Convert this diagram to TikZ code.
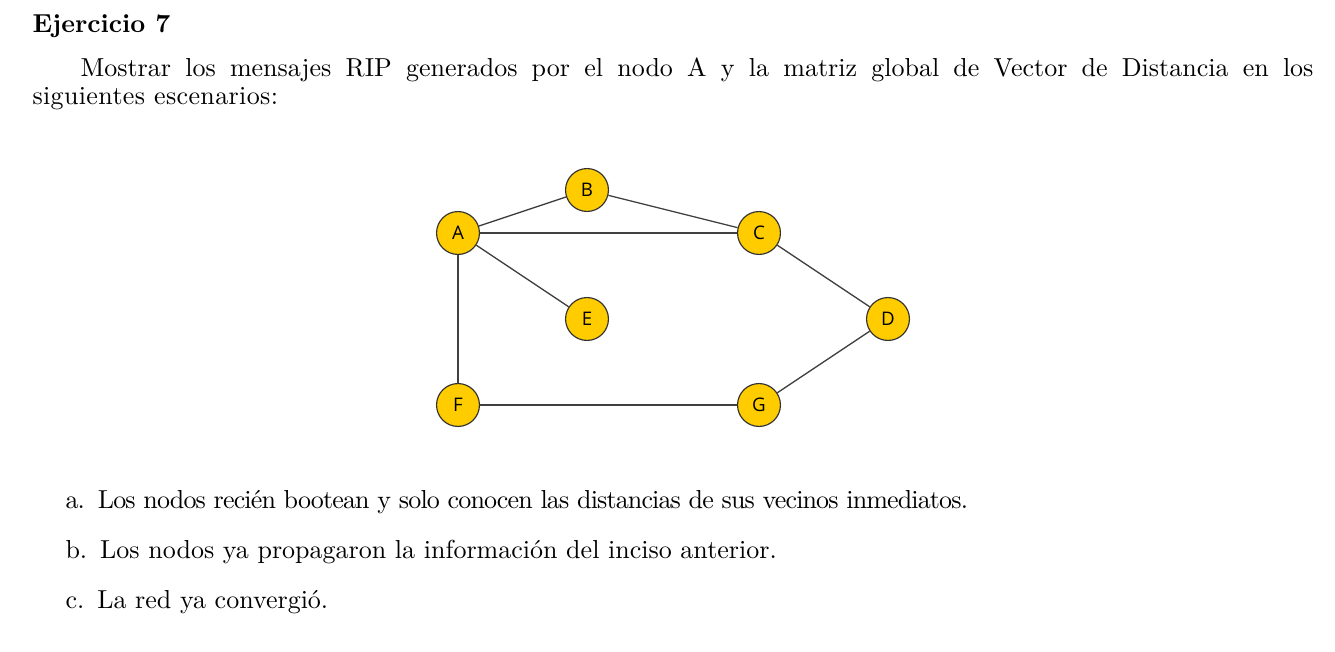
\documentclass[tikz,border=0pt]{standalone}
\usepackage{fontspec}
\setmainfont{Latin Modern Roman}
\newfontfamily\nodefont{Open Sans}
\definecolor{nodefill}{HTML}{FFCC00}
\definecolor{nodeline}{HTML}{333333}
\definecolor{edgeline}{HTML}{404040}
\begin{document}
\begin{tikzpicture}[x=0.3846pt,y=-0.3846pt,
  vertex/.style={circle,draw=nodeline,fill=nodefill,line width=0.45pt,minimum size=16.5pt,inner sep=0pt,font=\nodefont\fontsize{7.2}{8}\selectfont},
  link/.style={draw=edgeline,line width=0.5pt},
  txt/.style={anchor=base west,inner sep=0pt,font=\fontsize{10}{12}\selectfont}]
\useasboundingbox (0,0) rectangle (1335,651);
% text
\node[txt,font=\fontsize{10}{12}\selectfont\bfseries] (title) at (32,32) {Ejercicio 7};
\node[txt] (l1) at (80,76) {\makebox[474.2pt][s]{Mostrar los mensajes RIP generados por el nodo A y la matriz global de Vector de Distancia en los}};
\node[txt] (l2) at (32,104) {\addfontfeature{LetterSpace=1.4}siguientes escenarios:};
\node[txt] (ia) at (65,508) {\addfontfeature{LetterSpace=-3.3}a.\enspace Los nodos recién bootean y solo conocen las distancias de sus vecinos inmediatos.};
\node[txt] (ib) at (65,558) {b.\enspace Los nodos ya propagaron la información del inciso anterior.};
\node[txt] (ic) at (65,608) {c.\enspace La red ya convergió.};
% graph
\node[vertex] (A) at (458,233) {A};
\node[vertex] (B) at (587,190) {B};
\node[vertex] (C) at (759,233) {C};
\node[vertex] (D) at (888,319) {D};
\node[vertex] (E) at (587,319) {E};
\node[vertex] (F) at (458,405) {F};
\node[vertex] (G) at (759,405) {G};
\draw[link] (A) -- (B);
\draw[link] (B) -- (C);
\draw[link] (A) -- (C);
\draw[link] (A) -- (E);
\draw[link] (A) -- (F);
\draw[link] (C) -- (D);
\draw[link] (D) -- (G);
\draw[link] (F) -- (G);
\end{tikzpicture}
\end{document}
